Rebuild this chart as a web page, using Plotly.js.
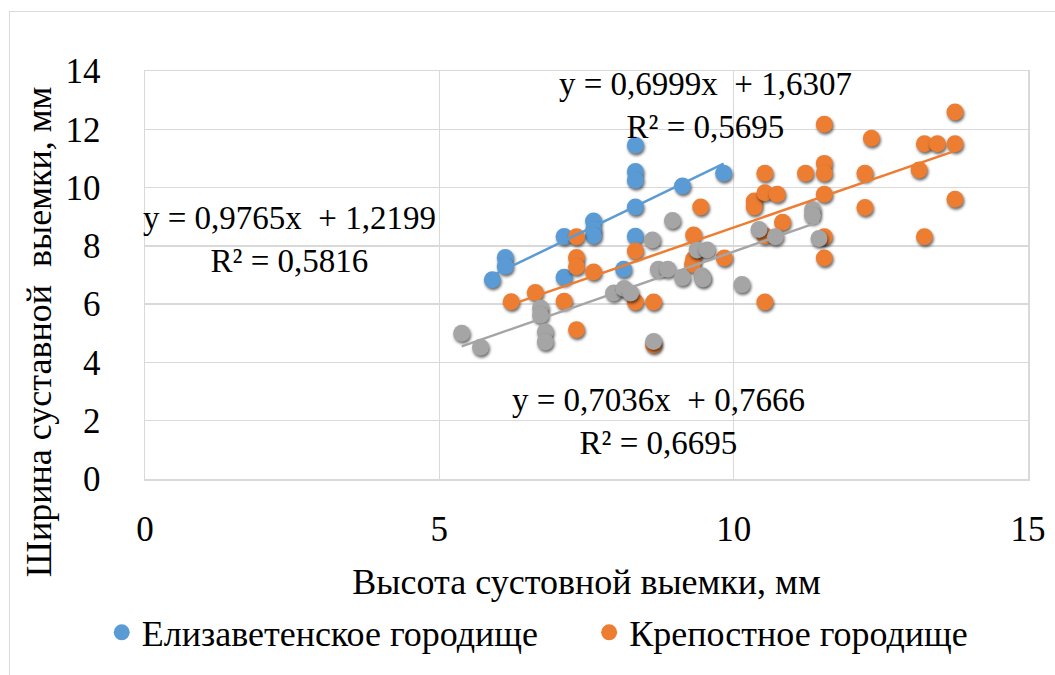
<!DOCTYPE html>
<html>
<head>
<meta charset="utf-8">
<script src="https://cdn.plot.ly/plotly-3.0.1.min.js"></script>
<style>
  html, body { margin: 0; padding: 0; background: #fff; }
  #frame { position: absolute; left: 9px; top: 11px; width: 1060px; height: 700px;
           border-left: 1.5px solid #D9D9D9; border-top: 1.5px solid #D9D9D9; pointer-events: none; z-index: 5; }
  #chart { position: absolute; left: 0; top: 0; width: 1055px; height: 675px; }
  .scatterlayer .trace .points path { filter: drop-shadow(1.5px 2.5px 1.5px rgba(0,0,0,0.6)); }
  .g-ytitle { transform: translate(5px, 57px); }
</style>
</head>
<body>
<div id="chart"></div>
<div id="frame"></div>
<script>
// Series names
const seriesNames = ["Елизаветенское городище", "Крепостное городище", "Серия 3"];
const seriesColors = ["#5B9BD5", "#ED7D31", "#A5A5A5"];

// Елизаветенское городище
const blueX = [5.9, 6.12, 6.12, 7.12, 7.12, 7.62, 7.62, 7.62, 8.13, 8.33, 8.33, 8.33, 8.33, 8.33, 9.13, 9.83];
const blueY = [6.84, 7.6, 7.3, 8.32, 6.92, 8.85, 8.55, 8.35, 7.2, 11.45, 10.55, 10.25, 9.33, 8.33, 10.05, 10.49];

// Крепостное городище
const orangeX = [6.22, 6.63, 7.12, 7.33, 7.33, 7.33, 7.33, 7.62, 8.33, 8.33, 8.64, 8.64,
                 9.32, 9.44, 9.32, 9.3, 9.84, 10.35, 10.35, 10.53, 10.53, 10.74, 10.83, 10.53, 10.53,
                 11.22, 11.54, 11.54, 11.54, 11.54, 11.54, 11.54, 12.23, 12.23, 12.34,
                 13.15, 13.24, 13.46, 13.76, 13.76, 13.76, 13.24];
const orangeY = [6.08, 6.4, 6.1, 8.31, 7.6, 7.28, 5.12, 7.1, 7.82, 6.07, 6.07, 4.6,
                 8.37, 9.33, 7.55, 7.36, 7.58, 9.54, 9.33, 10.49, 9.82, 9.77, 8.81, 8.35, 6.07,
                 10.49, 12.17, 10.83, 10.49, 9.77, 8.31, 7.58, 10.49, 9.32, 11.69,
                 10.6, 11.5, 11.5, 11.5, 12.59, 9.6, 8.31];

// Третья серия (без подписи в легенде)
const grayX = [5.38, 5.7, 6.72, 6.72, 6.8, 6.8, 7.96, 8.14, 8.25, 8.64, 8.62, 8.72, 8.88, 8.96,
               9.13, 9.38, 9.55, 9.46, 9.48, 10.14, 10.43, 10.71, 11.34, 11.34, 11.45];
const grayY = [5.0, 4.52, 5.87, 5.62, 5.05, 4.7, 6.38, 6.54, 6.38, 4.72, 8.2, 7.2, 7.2, 8.87,
               6.91, 7.86, 7.86, 6.97, 6.86, 6.67, 8.56, 8.31, 9.25, 9.04, 8.25];

// Linear trendlines (from the chart labels)
const trendSlope = [0.9765, 0.6999, 0.7036];
const trendIntercept = [1.2199, 1.6307, 0.7666];
const trendR2 = [0.5816, 0.5695, 0.6695];

// Axis ticks
const xTicks = [0, 5, 10, 15];
const yTicks = [0, 2, 4, 6, 8, 10, 12, 14];

const xAxisTitle = "Высота сустовной выемки, мм";
const yAxisTitle = "Ширина суставной\u00a0 выемки, мм";

const FONT = "Liberation Serif";
const TICK_FS = 35, TITLE_FS = 36, LEGEND_FS = 36, LABEL_FS = 33;

const xs = [blueX, orangeX, grayX];
const ys = [blueY, orangeY, grayY];
const legendIds = ["legend", "legend2", "legend"];

const traces = [];
for (let i = 0; i < 3; i++) {
  traces.push({
    type: "scatter", mode: "markers", name: seriesNames[i],
    x: xs[i], y: ys[i],
    marker: { color: seriesColors[i], size: 17 },
    showlegend: i < 2, legend: legendIds[i], cliponaxis: false
  });
}
for (let i = 0; i < 3; i++) {
  const x0 = Math.min(...xs[i]), x1 = Math.max(...xs[i]);
  traces.push({
    type: "scatter", mode: "lines", name: seriesNames[i] + " (тренд)",
    x: [x0, x1],
    y: [trendSlope[i] * x0 + trendIntercept[i], trendSlope[i] * x1 + trendIntercept[i]],
    line: { color: seriesColors[i], width: 2.5 },
    showlegend: false, hoverinfo: "skip"
  });
}

function fmt(v) { return v.toFixed(4).replace(".", ","); }
function label(i) {
  return "y = " + fmt(trendSlope[i]) + "x\u00a0 + " + fmt(trendIntercept[i]) + "<br>R² = " + fmt(trendR2[i]);
}
// label anchor positions (data coordinates)
const labelX = [2.46, 9.52, 8.72];
const labelY = [8.23, 12.83, 1.99];

const annotations = [0, 1, 2].map(i => ({
  xref: "x", yref: "y", x: labelX[i], y: labelY[i],
  text: label(i), showarrow: false, align: "center",
  xanchor: "center", yanchor: "middle",
  font: { family: FONT, size: LABEL_FS, color: "#000" }
}));

const legendFont = { family: FONT, size: LEGEND_FS, color: "#000" };
const layout = {
  width: 1055, height: 675,
  margin: { l: 145, r: 27, t: 71, b: 188, pad: 0 },
  paper_bgcolor: "#fff", plot_bgcolor: "#fff",
  font: { family: FONT, size: TICK_FS, color: "#000" },
  showlegend: true,
  legend: {
    orientation: "h", x: -0.049, xanchor: "left", y: -0.376, yanchor: "middle",
    font: legendFont, bgcolor: "rgba(0,0,0,0)"
  },
  legend2: {
    orientation: "h", x: 0.503, xanchor: "left", y: -0.376, yanchor: "middle",
    font: legendFont, bgcolor: "rgba(0,0,0,0)"
  },
  xaxis: {
    range: [0, 15], tickvals: xTicks, ticktext: xTicks.map(String),
    showgrid: true, gridcolor: "#D9D9D9", gridwidth: 1.5,
    showline: true, linecolor: "#D9D9D9", linewidth: 1.5, mirror: true,
    zeroline: false, ticks: "outside", ticklen: 18, tickcolor: "rgba(0,0,0,0)",
    tickfont: { family: FONT, size: TICK_FS, color: "#000" },
    title: { text: xAxisTitle, standoff: 21, font: { family: FONT, size: TITLE_FS, color: "#000" } },
    automargin: false, fixedrange: true
  },
  yaxis: {
    range: [0, 14], tickvals: yTicks, ticktext: yTicks.map(String),
    showgrid: true, gridcolor: "#D9D9D9", gridwidth: 1.5,
    showline: true, linecolor: "#D9D9D9", linewidth: 1.5, mirror: true,
    zeroline: false, ticks: "outside", ticklen: 36, tickcolor: "rgba(0,0,0,0)",
    tickfont: { family: FONT, size: TICK_FS, color: "#000" },
    title: { text: yAxisTitle, standoff: 8, font: { family: FONT, size: TITLE_FS, color: "#000" } },
    automargin: false, fixedrange: true
  },
  annotations: annotations
};

Plotly.newPlot("chart", traces, layout, { displayModeBar: false, staticPlot: true });
</script>
</body>
</html>
